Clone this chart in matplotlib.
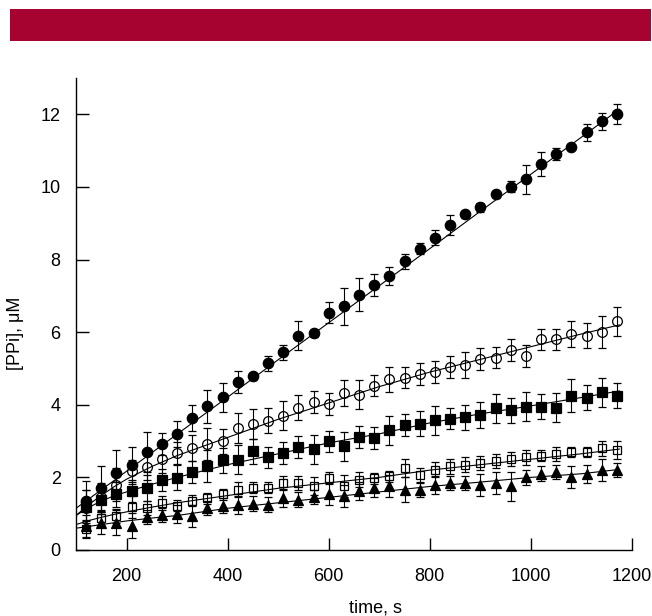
import numpy as np
import matplotlib
matplotlib.use('Agg')
import matplotlib.pyplot as plt
from matplotlib.patches import Rectangle

# time points, s
time = [120, 150, 180, 210, 240, 270, 300, 330, 360, 390, 420, 450,
        480, 510, 540, 570, 600, 630, 660, 690, 720, 750, 780, 810,
        840, 870, 900, 930, 960, 990, 1020, 1050, 1080, 1110, 1140, 1170]

# [PPi], uM for each series
filled_circle = [1.36, 1.71, 2.11, 2.33, 2.70, 2.93, 3.20, 3.63, 3.96, 4.21, 4.62, 4.78,
                 5.14, 5.44, 5.90, 5.97, 6.54, 6.71, 7.03, 7.30, 7.55, 7.95, 8.30, 8.60,
                 8.95, 9.25, 9.44, 9.80, 10.01, 10.21, 10.62, 10.91, 11.09, 11.50, 11.81, 12.01]
filled_circle_err = [0.55, 0.6, 0.65, 0.5, 0.55, 0.3, 0.35, 0.35, 0.45, 0.4, 0.3, 0.1,
                     0.2, 0.2, 0.4, 0.1, 0.3, 0.5, 0.45, 0.3, 0.25, 0.2, 0.15, 0.2,
                     0.28, 0.1, 0.12, 0.1, 0.15, 0.4, 0.33, 0.17, 0.05, 0.23, 0.23, 0.27]

open_circle = [1.15, 1.45, 1.80, 2.17, 2.29, 2.51, 2.67, 2.81, 2.92, 2.99, 3.36, 3.47,
               3.56, 3.70, 3.92, 4.08, 4.03, 4.32, 4.27, 4.53, 4.70, 4.75, 4.85, 4.90,
               5.05, 5.10, 5.25, 5.30, 5.50, 5.35, 5.80, 5.80, 5.95, 5.90, 6.00, 6.30]
open_circle_err = [0.5, 0.4, 0.45, 0.3, 0.35, 0.4, 0.3, 0.35, 0.45, 0.35, 0.4, 0.4,
                   0.35, 0.4, 0.35, 0.3, 0.3, 0.35, 0.4, 0.3, 0.35, 0.3, 0.3, 0.3,
                   0.3, 0.35, 0.3, 0.3, 0.3, 0.3, 0.3, 0.3, 0.35, 0.35, 0.45, 0.4]

filled_square = [1.19, 1.39, 1.53, 1.62, 1.71, 1.92, 1.99, 2.14, 2.31, 2.47, 2.48, 2.72,
                 2.55, 2.67, 2.83, 2.78, 2.99, 2.86, 3.11, 3.09, 3.30, 3.45, 3.48, 3.57,
                 3.62, 3.65, 3.72, 3.90, 3.85, 3.95, 3.95, 3.92, 4.25, 4.20, 4.35, 4.25]
filled_square_err = [0.45, 0.4, 0.35, 0.3, 0.35, 0.3, 0.35, 0.3, 0.45, 0.35, 0.4, 0.35,
                     0.3, 0.3, 0.3, 0.4, 0.3, 0.4, 0.3, 0.3, 0.4, 0.3, 0.35, 0.4,
                     0.3, 0.35, 0.35, 0.4, 0.35, 0.4, 0.35, 0.4, 0.45, 0.35, 0.4, 0.35]

open_square = [0.58, 0.87, 0.93, 1.19, 1.16, 1.30, 1.22, 1.36, 1.42, 1.53, 1.66, 1.71,
               1.71, 1.85, 1.85, 1.77, 1.99, 1.77, 1.94, 1.97, 2.03, 2.26, 2.06, 2.21,
               2.30, 2.35, 2.40, 2.45, 2.50, 2.55, 2.60, 2.65, 2.70, 2.70, 2.80, 2.75]
open_square_err = [0.25, 0.2, 0.2, 0.3, 0.2, 0.2, 0.15, 0.15, 0.15, 0.15, 0.2, 0.15,
                   0.15, 0.2, 0.2, 0.25, 0.15, 0.3, 0.2, 0.15, 0.15, 0.25, 0.2, 0.2,
                   0.2, 0.2, 0.2, 0.2, 0.2, 0.2, 0.15, 0.2, 0.15, 0.15, 0.2, 0.25]

triangle = [0.67, 0.75, 0.75, 0.67, 0.91, 0.96, 1.00, 0.93, 1.16, 1.22, 1.25, 1.28,
            1.25, 1.44, 1.39, 1.46, 1.53, 1.48, 1.62, 1.72, 1.76, 1.66, 1.65, 1.80,
            1.85, 1.85, 1.80, 1.85, 1.75, 2.00, 2.10, 2.15, 2.00, 2.10, 2.20, 2.20]
triangle_err = [0.3, 0.3, 0.35, 0.35, 0.2, 0.2, 0.25, 0.3, 0.2, 0.2, 0.25, 0.2,
                0.2, 0.25, 0.2, 0.2, 0.3, 0.3, 0.25, 0.25, 0.3, 0.35, 0.2, 0.25,
                0.2, 0.2, 0.3, 0.3, 0.4, 0.2, 0.2, 0.2, 0.3, 0.25, 0.3, 0.2]

# fitted curves
fit_time = [100, 125, 150, 175, 200, 250, 300, 400, 500, 600, 700, 800, 900, 1000, 1100, 1175]
fit_filled_circle = [1.15, 1.40, 1.66, 1.91, 2.17, 2.68, 3.19, 4.21, 5.24, 6.26, 7.28,
                     8.30, 9.33, 10.35, 11.37, 12.14]
fit_open_circle = [0.95, 1.25, 1.50, 1.74, 1.95, 2.30, 2.60, 3.10, 3.60, 4.05, 4.50,
                   4.90, 5.25, 5.60, 5.95, 6.20]
fit_filled_square = [0.95, 1.17, 1.35, 1.49, 1.60, 1.81, 2.00, 2.35, 2.65, 2.95, 3.20,
                     3.50, 3.75, 3.97, 4.20, 4.38]
fit_open_square = [0.70, 0.81, 0.90, 0.98, 1.05, 1.18, 1.30, 1.50, 1.70, 1.85, 2.00,
                   2.20, 2.35, 2.50, 2.65, 2.78]
fit_triangle = [0.60, 0.65, 0.70, 0.75, 0.80, 0.88, 0.95, 1.15, 1.30, 1.45, 1.60,
                1.75, 1.87, 2.00, 2.10, 2.22]


def main():
    plt.rcParams['font.family'] = ['Liberation Sans', 'DejaVu Sans']
    fig = plt.figure(figsize=(6.52, 6.16), dpi=100)

    # red banner across the top
    fig.patches.append(Rectangle((10 / 652, (616 - 41) / 616), 641 / 652, 32 / 616,
                                 transform=fig.transFigure, facecolor='#a60330',
                                 edgecolor='none'))

    ax = fig.add_axes([76 / 652, 66 / 616, 556 / 652, 472 / 616])

    series = [
        (filled_circle, filled_circle_err, fit_filled_circle, 'o', 'k', 7.5),
        (open_circle, open_circle_err, fit_open_circle, 'o', 'none', 7.0),
        (filled_square, filled_square_err, fit_filled_square, 's', 'k', 6.8),
        (open_square, open_square_err, fit_open_square, 's', 'none', 6.3),
        (triangle, triangle_err, fit_triangle, '^', 'k', 6.8),
    ]
    for y, err, fit, m, fc, ms in series:
        ax.plot(fit_time, fit, color='k', lw=0.8, zorder=2)
        ax.errorbar(time, y, yerr=err, fmt=m, mfc=fc, mec='k', mew=0.9, ms=ms,
                    ecolor='k', elinewidth=0.8, capsize=3, capthick=0.8, zorder=3)

    ax.set_xlim(100, 1200)
    ax.set_ylim(0, 13)
    ax.set_xticks([200, 400, 600, 800, 1000, 1200])
    ax.set_yticks([0, 2, 4, 6, 8, 10, 12])
    for s in ['top', 'right']:
        ax.spines[s].set_visible(False)
    ax.spines['left'].set_linewidth(1.0)
    ax.spines['bottom'].set_linewidth(1.0)
    ax.tick_params(direction='in', length=9, width=1.0, labelsize=13)
    ax.tick_params(axis='x', pad=13)
    ax.tick_params(axis='y', pad=11)

    ax.set_xlabel('time, s', fontsize=13)
    ax.xaxis.set_label_coords(0.538, -0.105)
    ax.set_ylabel('[PPi], \u03bcM', fontsize=13)
    ax.yaxis.set_label_coords(-0.093, 0.46)

    fig.savefig('out.png', dpi=100)


if __name__ == '__main__':
    main()
